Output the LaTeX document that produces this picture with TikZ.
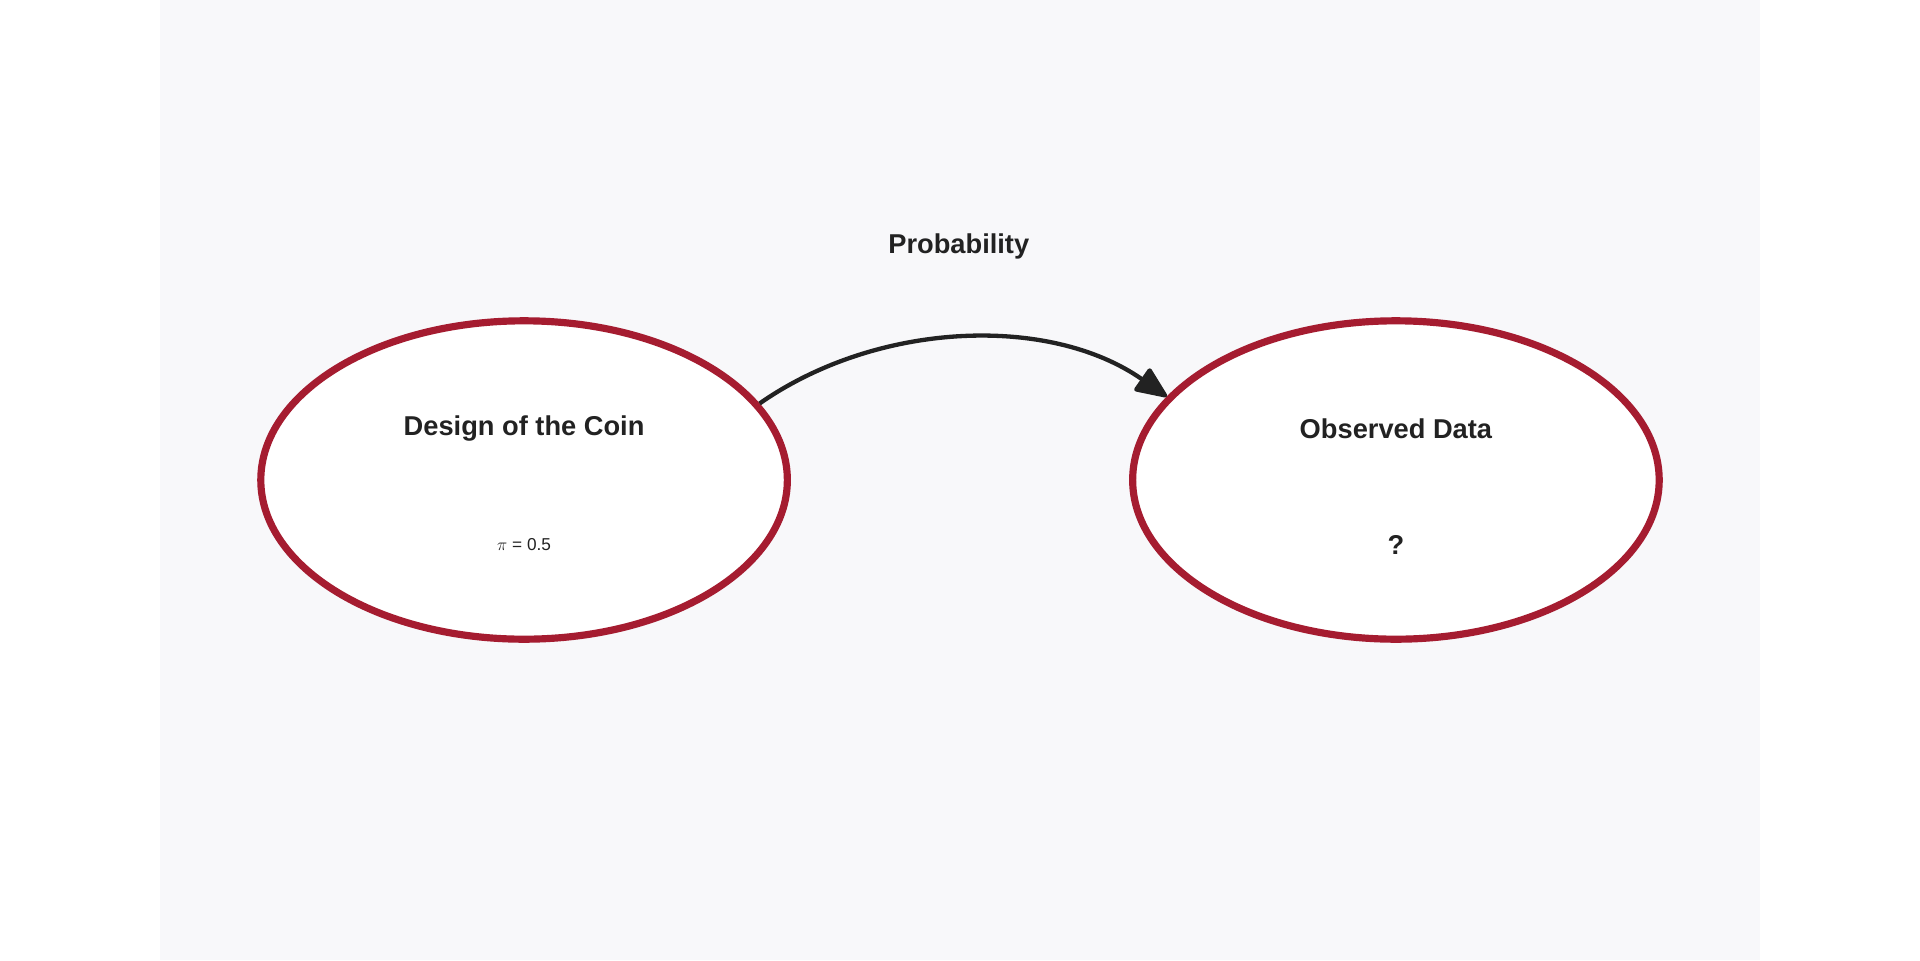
\documentclass[tikz,border=0pt]{standalone}
\usepackage{fontspec}
\setmainfont{Liberation Sans}
\usetikzlibrary{arrows.meta,shapes.geometric,positioning}
\definecolor{crimson}{HTML}{A51C30}
\definecolor{panel}{HTML}{F8F8FA}
\definecolor{ink}{HTML}{222222}
\tikzset{
	state/.style={ellipse, draw=crimson, line width=5pt, fill=white, minimum width=12.9cm, minimum height=7.8cm},
	title/.style={font=\fontsize{19}{22}\selectfont\bfseries, text=ink},
	value/.style={font=\fontsize{19}{22}\selectfont, text=ink},
	link/.style={draw=ink, line width=3pt, -{Triangle[length=0.85cm, width=0.7cm, round]}}
}
\begin{document}
\begin{tikzpicture}[x=0.03cm, y=-0.03cm]
	\useasboundingbox (0,0) rectangle (1568,784);
	\fill [white] (0,0) rectangle (1568,784);
	\fill [panel] (131,0) rectangle (1437,784);

	% the two states
	\node [state] (design) at (428,392) {};
	\node [state] (data) at (1140,392) {};

	\node [title] (designtitle) at (428,350) {Design of the Coin};
	\node [value] (designvalue) at (428,445) {\large$\pi$ = 0.5};
	\node [title] (datatitle) at (1140,350) {Observed Data};
	\node [title] (datavalue) at (1140,445) {?};

	% link
	\node [title] (prob) at (783,201) {Probability};
	\draw [link] (design.18) to [out=35, in=145, looseness=0.9] (data.160);
\end{tikzpicture}
\end{document}
